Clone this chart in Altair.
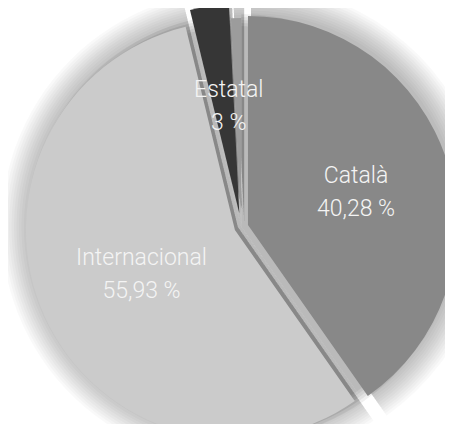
import altair as alt
import pandas as pd

# ---- data ----
categories = ["Català", "Internacional", "Estatal", "Altres"]
values = [40.28, 55.93, 3.0, 0.79]
labels = ["40,28 %", "55,93 %", "3 %", ""]
explode = [7, 7, 14, 0]
colors = ["#888888", "#cbcbcb", "#363636", "#9c9c9c"]

df = pd.DataFrame({
    "cat": categories,
    "value": values,
    "pct": labels,
    "explode": explode,
    "order": list(range(len(categories))),
})

W, H = 437, 416
CX, CY = 233.3, 219.0
R = 209
LABEL_R = 108

base = (
    alt.Chart(df)
    .transform_joinaggregate(total="sum(value)")
    .transform_window(cum="sum(value)", sort=[alt.SortField("order")], frame=[None, 0])
    .transform_calculate(
        a0="(datum.cum - datum.value) / datum.total * 2 * PI",
        a1="datum.cum / datum.total * 2 * PI",
    )
    .transform_calculate(mid="(datum.a0 + datum.a1) / 2")
    .transform_calculate(
        cx=f"{CX} + datum.explode * sin(datum.mid)",
        cy=f"{CY} - datum.explode * cos(datum.mid)",
        ux=f"{CX}",
        uy=f"{CY}",
    )
    .transform_calculate(
        lx=f"datum.cx + {LABEL_R} * sin(datum.mid)",
        ly=f"datum.cy - {LABEL_R} * cos(datum.mid)",
        txt="datum.cat + '\\n' + datum.pct",
    )
)

arc_enc = dict(
    theta=alt.Theta("a0:Q", scale=None, stack=None),
    theta2="a1:Q",
    x=alt.X("cx:Q", scale=None),
    y=alt.Y("cy:Q", scale=None),
)
under_enc = dict(
    theta=alt.Theta("a0:Q", scale=None, stack=None),
    theta2="a1:Q",
    x=alt.X("ux:Q", scale=None),
    y=alt.Y("uy:Q", scale=None),
)

shadows = []
for k in range(12):
    shadows.append(
        base.mark_arc(radius=R + 2.5 * k, color="black", opacity=0.022,
                      xOffset=3, yOffset=-3).encode(**arc_enc)
    )

# soft shading filling the gaps between exploded slices
underlay = []
for k in range(5):
    underlay.append(
        base.transform_filter("datum.cat != 'Altres'").mark_arc(
            radius=R + 4 - 3 * k, color="black", opacity=0.06
        ).encode(**under_enc)
    )

slices = base.mark_arc(radius=R).encode(
    color=alt.Color("cat:N", scale=alt.Scale(domain=categories, range=colors), legend=None),
    **arc_enc,
)

text = base.transform_filter("datum.pct != ''").mark_text(
    font="Roboto", fontSize=23, fontWeight=300, color="#f4f4f4",
    lineBreak="\n", lineHeight=33, align="center", baseline="middle", dy=-16, dx=5,
).encode(
    x=alt.X("lx:Q", scale=None),
    y=alt.Y("ly:Q", scale=None),
    text="txt:N",
)

chart = alt.layer(*shadows, *underlay, slices, text).properties(
    width=W, height=H, padding=0,
    autosize=alt.AutoSizeParams(type="none"),
).configure_view(stroke=None)

chart.save("out.html", embed_options={"renderer": "svg", "actions": False})
